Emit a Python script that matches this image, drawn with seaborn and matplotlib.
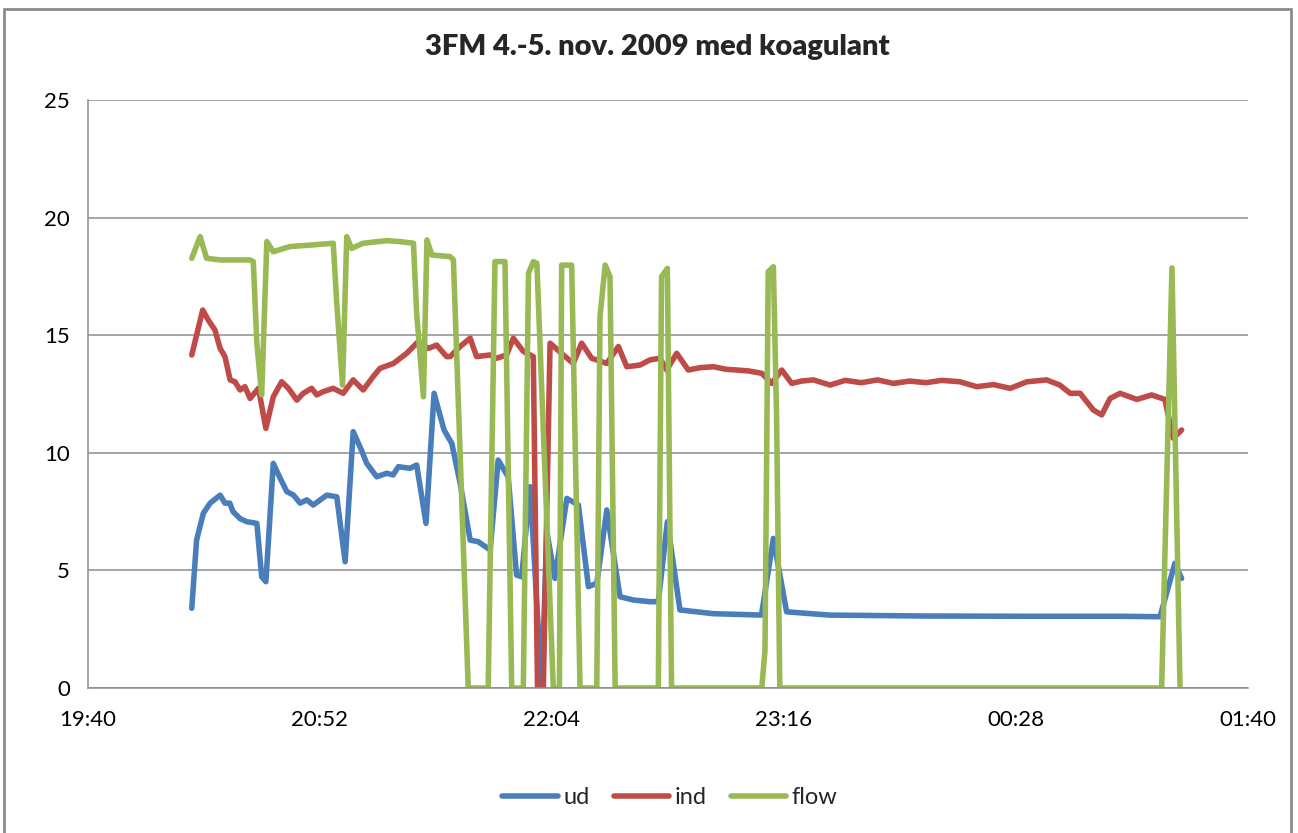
import numpy as np
import pandas as pd
import seaborn as sns
import matplotlib
matplotlib.use("Agg")
import matplotlib.pyplot as plt
from matplotlib.patches import Rectangle

# ---- data (x = minutes after 19:40) ----
ud_t = [32.2, 33.7, 35.8, 37.9, 41.0, 42.5, 44.0, 45.0, 47.2, 49.3, 52.4, 53.9, 55.2, 57.5,
        59.6, 61.7, 63.8, 65.8, 67.9, 69.9, 74.1, 77.2, 79.8, 82.3, 84.9, 86.5, 89.6, 92.7,
        94.7, 96.3, 99.9, 102.0, 104.9, 107.4, 110.5, 112.9, 115.5, 118.6, 121.1, 124.8,
        127.3, 130.4, 133.0, 134.6, 137.2, 140.8, 142.4, 144.9, 148.6, 152.2, 155.3, 157.9,
        161.0, 165.1, 169.3, 174.4, 177.0, 179.8, 183.7, 194.0, 209.0, 212.7, 216.8, 230.0,
        260.0, 290.0, 320.0, 332.7, 337.3, 339.4]
ud_v = [3.39, 6.29, 7.43, 7.86, 8.2, 7.86, 7.86, 7.5, 7.2, 7.07, 7.0, 4.73, 4.52, 9.55,
        8.93, 8.35, 8.2, 7.86, 8.0, 7.78, 8.2, 8.13, 5.37, 10.9, 10.1, 9.55, 8.98, 9.13,
        9.06, 9.41, 9.34, 9.48, 7.0, 12.53, 10.97, 10.4, 8.7, 6.29, 6.22, 5.87,
        9.69, 8.98, 4.8, 4.73, 8.56, 0.0, 6.65, 4.66, 8.06, 7.78, 4.31, 4.45,
        7.57, 3.88, 3.74, 3.67, 3.67, 7.07, 3.32, 3.16, 3.1, 6.36, 3.24, 3.1,
        3.06, 3.05, 3.05, 3.03, 5.3, 4.66]

ind_t = [32.2, 35.6, 37.3, 39.4, 41.0, 42.5, 44.1, 45.6, 47.2, 48.7, 50.3, 52.9, 55.2, 57.5,
         60.1, 62.2, 64.8, 66.8, 69.4, 71.0, 73.0, 76.1, 79.2, 82.3, 85.4, 88.5, 90.6, 94.8,
         98.9, 102.5, 105.6, 108.2, 111.3, 112.4, 115.5, 118.6, 120.6, 124.8, 126.8, 129.9,
         132.0, 135.1, 138.2, 139.5, 141.3, 143.4, 147.5, 150.6, 153.2, 156.3, 161.0, 164.6,
         167.2, 171.3, 174.4, 177.5, 179.6, 182.7, 186.3, 190.0, 194.1, 198.0, 201.3, 205.0,
         209.1, 212.2, 215.3, 218.4, 221.5, 225.1, 230.3, 235.0, 240.0, 245.0, 250.0, 255.0,
         260.0, 265.0, 270.6, 275.8, 281.0, 286.2, 291.4, 297.5, 301.6,
         304.8, 307.9, 312.0, 314.6, 317.2, 320.3, 325.5, 330.1, 334.2, 336.8, 339.4]
ind_v = [14.16, 16.07, 15.65, 15.22, 14.44, 14.09, 13.1, 13.02, 12.67, 12.81, 12.31, 12.74, 11.04, 12.38,
         13.02, 12.74, 12.24, 12.53, 12.74, 12.46, 12.6, 12.74, 12.53, 13.1, 12.67, 13.24, 13.59, 13.8,
         14.23, 14.73, 14.44, 14.58, 14.09, 14.09, 14.52, 14.87, 14.09, 14.16, 14.02, 14.16,
         14.87, 14.31, 14.09, 0.0, 0.0, 14.66, 14.16, 13.8, 14.66, 14.02, 13.8, 14.52,
         13.66, 13.73, 13.95, 14.02, 13.52, 14.23, 13.52, 13.62, 13.66, 13.55, 13.52, 13.48,
         13.38, 12.95, 13.52, 12.95, 13.05, 13.1, 12.88, 13.08, 12.98, 13.1, 12.95, 13.05,
         12.98, 13.08, 13.02, 12.81, 12.9, 12.74, 13.02, 13.1, 12.88,
         12.53, 12.53, 11.82, 11.61, 12.31, 12.53, 12.27, 12.46, 12.27, 10.62, 10.97]

flow_t = [32.2, 34.8, 36.8, 41.0, 50.3, 51.3, 52.4, 53.9, 55.5, 57.5, 62.7, 69.9, 76.1, 77.2,
          79.0, 80.3, 81.8, 85.4, 92.7, 96.8, 101.0, 102.0, 104.1, 105.2, 106.7, 112.4, 113.4,
          118.0, 124.2, 126.3, 129.4, 131.5, 135.1, 136.7, 138.2, 139.3, 144.4, 146.3, 147.0,
          150.1, 152.7, 157.9, 158.9, 160.5, 162.0, 163.6, 177.0, 178.0, 179.8, 181.1, 209.1,
          210.1, 211.1, 212.7, 213.7, 214.7, 333.2, 336.4, 338.9]
flow_v = [18.27, 19.19, 18.27, 18.2, 18.2, 18.13, 14.66, 12.46, 18.98, 18.55, 18.77, 18.84, 18.91, 16.36,
          12.88, 19.19, 18.69, 18.91, 19.02, 18.98, 18.91, 15.93, 12.38, 19.05, 18.41, 18.34, 18.2,
          0.0, 0.0, 18.13, 18.13, 0.0, 0.0, 17.63, 18.13, 18.06, 0.0, 0.0, 17.98,
          17.98, 0.0, 0.0, 15.8, 17.98, 17.49, 0.0, 0.0, 17.49, 17.84, 0.0, 0.0,
          1.6, 17.7, 17.91, 11.53, 0.0, 0.0, 17.86, 0.0]

series_names = ["ud", "ind", "flow"]
colors = ["#4A7EBB", "#BE4B48", "#98B954"]
x_ticks = [0, 72, 144, 216, 288, 360]
x_tick_labels = ["19:40", "20:52", "22:04", "23:16", "00:28", "01:40"]
y_ticks = [0, 5, 10, 15, 20, 25]
title = "3FM 4.-5. nov. 2009 med koagulant"

frames = []
for name, t, v in zip(series_names, [ud_t, ind_t, flow_t], [ud_v, ind_v, flow_v]):
    frames.append(pd.DataFrame({"time": t, "value": v, "series": name}))
df = pd.concat(frames, ignore_index=True)

sns.set_theme(style="white")
plt.rcParams["font.family"] = ["Lato", "DejaVu Sans"]

fig = plt.figure(figsize=(12.98, 8.33), dpi=100)
ax = fig.add_axes([88 / 1298, 1 - 688 / 833, (1248 - 88) / 1298, (688 - 100) / 833])

sns.lineplot(data=df, x="time", y="value", hue="series", hue_order=series_names,
             palette=colors, sort=False, estimator=None, linewidth=4.0, ax=ax,
             solid_joinstyle="round", solid_capstyle="round", legend=True)

ax.set_xlim(0, 360)
ax.set_ylim(0, 25)
ax.set_xticks(x_ticks)
ax.set_xticklabels(x_tick_labels)
ax.set_yticks(y_ticks)
ax.set_xlabel("")
ax.set_ylabel("")
ax.grid(axis="y", color="#8C8C8C", linewidth=1.1)
ax.set_axisbelow(True)
for s in ["top", "right"]:
    ax.spines[s].set_visible(False)
for s in ["left", "bottom"]:
    ax.spines[s].set_color("#8C8C8C")
    ax.spines[s].set_linewidth(1.1)
ax.tick_params(axis="both", which="both", direction="out", length=5, width=1.1,
               color="#8C8C8C", labelsize=16, labelcolor="black")
ax.tick_params(axis="x", pad=11)
ax.tick_params(axis="y", pad=8)

fig.text(0.5 + 8 / 1298, 1 - 47 / 833, title, ha="center", va="center", fontsize=21,
         fontweight="heavy")

handles, labels = ax.get_legend_handles_labels()
if ax.legend_ is not None:
    ax.legend_.remove()
fig.legend(handles, labels, loc="center", bbox_to_anchor=(670 / 1298, 1 - 798 / 833), ncol=3,
           frameon=False, fontsize=17, handlelength=2.35, columnspacing=1.0, handletextpad=0.25)

fig.patches.append(Rectangle((4 / 1298, -0.05), (1291 - 4) / 1298, 1.05 - 9 / 833,
                             transform=fig.transFigure, fill=False,
                             edgecolor="#8C8C8C", linewidth=2))

fig.savefig("out.png", dpi=100)
